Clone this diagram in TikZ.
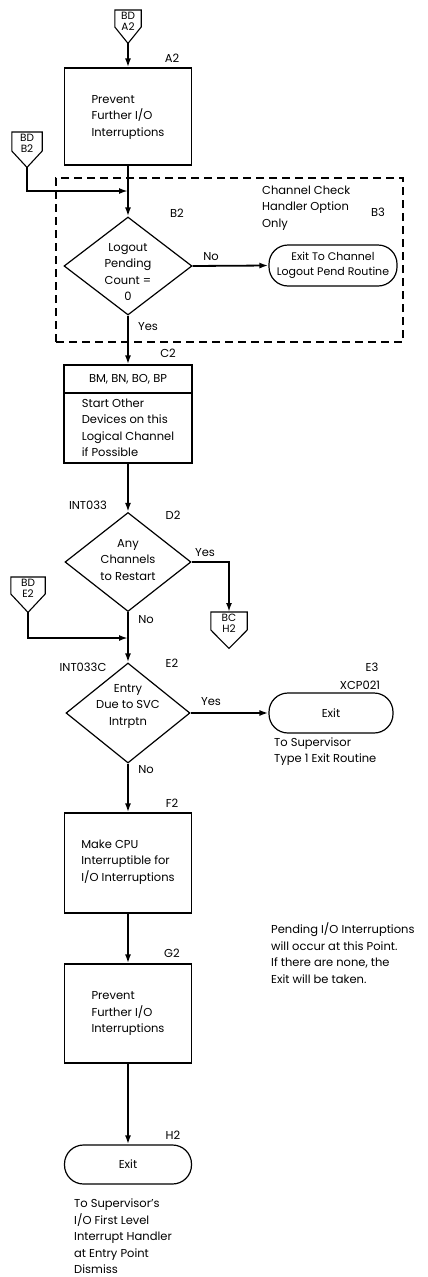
\documentclass[tikz,border=0pt]{standalone}
\usepackage{fontspec}
\setmainfont{Poppins}
\usetikzlibrary{arrows.meta,shapes.geometric,calc}
\newcommand{\offpage}[7]{%
  \node[minimum width=#4pt, minimum height=#6pt, inner sep=0pt, anchor=north] (#1) at (#2,#3) {};
  \draw[conline] (#1.north west) -- (#1.north east) -- ($(#1.north east)+(0,#5)$) -- (#1.south) -- ($(#1.north west)+(0,#5)$) -- cycle;
  \node[smalltxt, anchor=north] (#1t) at ($(#1.north)+(0,2)$) {#7};
}
\begin{document}
\begin{tikzpicture}[x=1pt,y=-1pt,
  font=\fontsize{11.5}{16.5}\selectfont,
  conline/.style={line width=1.1pt, line join=miter},
  smalltxt/.style={font=\fontsize{10.5}{10.5}\selectfont, inner sep=0pt, align=center},
  box/.style={draw, line width=1.2pt, minimum width=127pt, inner sep=0pt},
  dia/.style={draw, diamond, line width=1.2pt, inner sep=0pt},
  term/.style={draw, rectangle, rounded corners=19pt, line width=1.2pt, inner sep=0pt},
  flow/.style={line width=1.8pt, -{Latex[length=9pt,width=6pt]}},
  lbl/.style={inner sep=0pt},
  txt/.style={inner sep=0pt, align=left},
  ctxt/.style={inner sep=0pt, align=center}]
\useasboundingbox (0,0) rectangle (428,1277);

% dashed option region
\node[draw, dash pattern=on 8pt off 5pt, line width=1.1pt, minimum width=347pt, minimum height=164pt, inner sep=0pt] (opt) at (229.5,260) {};

% A2
\offpage{bda2}{128}{10}{26}{17}{33}{BD\\A2}
\node[box, minimum height=97pt] (a2) at (128,116.5) {};
\node[txt] (a2t) at (128,117) {Prevent\\Further I/O\\Interruptions};
\node[lbl] (a2l) at (172,58) {A2};
\draw[flow] (bda2.south) -- (a2.north);

% B2 entry
\offpage{bdb2}{27}{132}{30}{19}{35}{BD\\B2}
\coordinate (jb2) at (128,191);

% B2 decision
\node[dia, minimum width=128pt, minimum height=98pt] (b2) at (128,266) {};
\node[ctxt] (b2t) at (128,272) {Logout\\Pending\\Count =\\0};
\node[lbl] (b2l) at (177,213) {B2};
\draw[flow] (a2.south) -- (b2.north);
\draw[flow] (bdb2.south) |- (jb2);

\node[txt, anchor=west] (optt) at (262,208) {Channel Check\\Handler Option\\Only};
\node[lbl] (b3l) at (378,212) {B3};
\node[term, minimum width=128pt, minimum height=41pt] (lpr) at (333,265.5) {};
\node[ctxt, font=\fontsize{11}{15}\selectfont] (lprt) at (333,265.5) {Exit To Channel\\Logout Pend Routine};
\draw[flow] (b2.east) -- (lpr.west);
\node[lbl] (b2no) at (211,257) {No};
\node[lbl] (b2yes) at (148,327) {Yes};

% C2
\node[box, minimum width=128pt, minimum height=98pt] (c2) at (128,414) {};
\draw[line width=1.2pt] (c2.west |- 0,393) -- (c2.east |- 0,393);
\node[ctxt] (c2h) at (128,379) {BM, BN, BO, BP};
\node[txt] (c2t) at (128,428) {Start Other\\Devices on this\\Logical Channel\\if Possible};
\node[lbl] (c2l) at (168,353) {C2};
\draw[flow] (b2.south) -- (c2.north);

% D2
\node[lbl] (int033) at (88,505) {INT033};
\node[dia, minimum width=126pt, minimum height=99pt] (d2) at (128,562) {};
\node[ctxt] (d2t) at (128,560) {Any\\Channels\\to Restart};
\node[lbl] (d2l) at (173,515) {D2};
\draw[flow] (c2.south) -- (d2.north);
\node[lbl] (d2yes) at (205,553) {Yes};
\offpage{bch2}{229}{612}{36}{18}{36}{BC\\H2}
\draw[flow] (d2.east) -| (bch2.north);
\node[lbl] (d2no) at (146,620) {No};

% E2
\offpage{bde2}{28}{577}{34}{17}{35}{BD\\E2}
\coordinate (je2) at (128,638);
\node[lbl] (int033c) at (83,667) {INT033C};
\node[dia, minimum width=124pt, minimum height=100pt] (e2) at (128,713) {};
\node[ctxt] (e2t) at (128,706) {Entry\\Due to SVC\\Intrptn};
\node[lbl] (e2l) at (172,663) {E2};
\draw[flow] (d2.south) -- (e2.north);
\draw[flow] (bde2.south) |- (je2);
\node[lbl] (e2yes) at (211,702) {Yes};
\node[term, minimum width=124pt, minimum height=40pt] (e3) at (331,713) {Exit};
\node[lbl] (e3l) at (372,667) {E3};
\node[lbl] (xcp) at (360,685) {XCP021};
\node[txt, anchor=west] (e3t) at (274,751.5) {To Supervisor\\Type 1 Exit Routine};
\draw[flow] (e2.east) -- (e3.west);
\node[lbl] (e2no) at (146,770) {No};

% F2
\node[box, minimum height=100pt] (f2) at (128,863) {};
\node[txt] (f2t) at (128,862) {Make CPU\\Interruptible for\\I/O Interruptions};
\node[lbl] (f2l) at (172,803) {F2};
\draw[flow] (e2.south) -- (f2.north);

% G2
\node[box, minimum height=99pt] (g2) at (128,1013.5) {};
\node[txt] (g2t) at (128,1013.5) {Prevent\\Further I/O\\Interruptions};
\node[lbl] (g2l) at (172,953) {G2};
\draw[flow] (f2.south) -- (g2.north);
\node[txt, anchor=west] (note) at (271,953) {Pending I/O Interruptions\\will occur at this Point.\\If there are none, the\\Exit will be taken.};

% H2
\node[term, minimum width=127pt, minimum height=39pt] (h2) at (128,1164.5) {Exit};
\node[lbl] (h2l) at (173,1135) {H2};
\draw[flow] (g2.south) -- (h2.north);
\node[txt, anchor=west] (h2t) at (74,1236.5) {To Supervisor's\\I/O First Level\\Interrupt Handler\\at Entry Point\\Dismiss};
\end{tikzpicture}
\end{document}
